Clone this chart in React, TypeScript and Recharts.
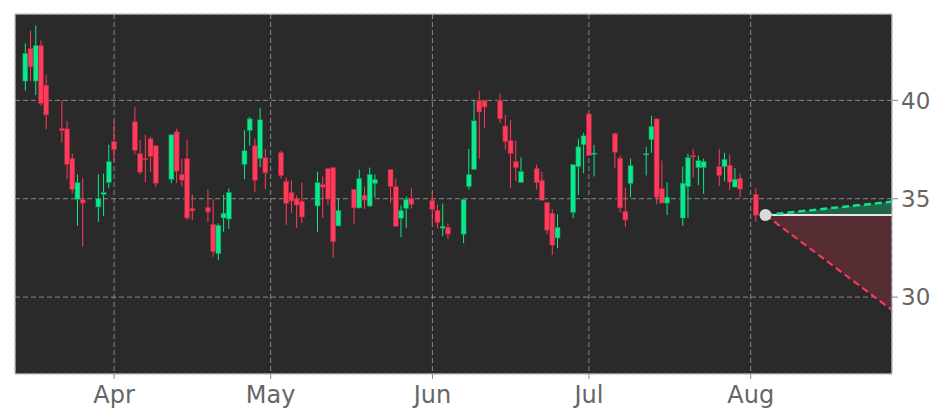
import { ComposedChart, Bar, Line, Area, XAxis, YAxis, CartesianGrid, ReferenceArea, ReferenceDot } from 'recharts';

const GREEN = '#0de88a';
const RED = '#ff3b5c';

const t = (m: number, day: number, h = 0) => Date.UTC(2021, m - 1, day, h);

// trading days, 2021
const tradeDays = [
  '03-15', '03-16', '03-17', '03-18', '03-19', '03-22', '03-23', '03-24', '03-25', '03-26',
  '03-29', '03-30', '03-31', '04-01', '04-05', '04-06', '04-07', '04-08', '04-09', '04-12',
  '04-13', '04-14', '04-15', '04-16', '04-19', '04-20', '04-21', '04-22', '04-23', '04-26',
  '04-27', '04-28', '04-29', '04-30', '05-03', '05-04', '05-05', '05-06', '05-07', '05-10',
  '05-11', '05-12', '05-13', '05-14', '05-17', '05-18', '05-19', '05-20', '05-21', '05-24',
  '05-25', '05-26', '05-27', '05-28', '06-01', '06-02', '06-03', '06-04', '06-07', '06-08',
  '06-09', '06-10', '06-11', '06-14', '06-15', '06-16', '06-17', '06-18', '06-21', '06-22',
  '06-23', '06-24', '06-25', '06-28', '06-29', '06-30', '07-01', '07-02', '07-06', '07-07',
  '07-08', '07-09', '07-12', '07-13', '07-14', '07-15', '07-16', '07-19', '07-20', '07-21',
  '07-22', '07-23', '07-26', '07-27', '07-28', '07-29', '07-30', '08-02',
];

const opens = [
  40.98, 42.64, 40.98, 42.79, 40.77, 38.57, 38.55, 37.04, 34.97, 34.97,
  34.58, 35.22, 35.82, 37.9, 38.91, 37.29, 37.05, 38.05, 37.69, 35.99,
  38.4, 36.23, 37.04, 34.51, 34.56, 33.7, 32.21, 34.02, 33.97, 36.75,
  38.47, 37.69, 37.05, 37.09, 37.34, 35.88, 35.32, 35.02, 34.87, 34.63,
  35.72, 36.53, 36.58, 33.62, 35.47, 34.53, 35.17, 34.63, 35.77, 36.48,
  35.62, 34.01, 34.51, 35.02, 34.92, 34.41, 33.5, 33.55, 33.2, 35.62,
  36.48, 40.0, 40.0, 40.0, 38.7, 37.95, 36.89, 35.82, 36.53, 35.93,
  34.81, 34.26, 33.0, 34.31, 36.63, 37.74, 39.31, 37.27, 38.3, 37.05,
  34.36, 35.77, 37.27, 38.0, 39.06, 35.52, 34.78, 34.02, 35.62, 37.2,
  36.58, 36.58, 36.63, 36.63, 36.7, 35.59, 36.04, 35.22,
];

const highs = [
  42.9, 43.55, 43.8, 43.05, 41.28, 40.0, 38.96, 37.29, 36.23, 36.03,
  36.23, 36.28, 37.74, 38.91, 39.66, 38.0, 38.25, 38.15, 37.74, 38.25,
  38.55, 37.04, 38.0, 35.22, 35.47, 34.97, 33.75, 35.2, 35.52, 38.48,
  39.16, 38.05, 39.61, 37.54, 37.44, 36.08, 35.93, 35.17, 35.82, 36.38,
  36.13, 36.55, 36.6, 35.02, 35.49, 36.48, 35.62, 36.58, 36.23, 36.5,
  36.03, 34.66, 35.12, 35.52, 35.32, 34.71, 34.76, 33.75, 34.97, 37.54,
  40.0, 40.47, 40.0, 40.35, 39.26, 39.01, 37.95, 37.09, 36.73, 36.38,
  34.81, 34.46, 34.21, 36.73, 38.05, 38.35, 39.31, 37.74, 38.35, 37.19,
  35.57, 37.04, 37.64, 39.21, 39.06, 36.94, 35.84, 36.63, 37.29, 37.54,
  37.19, 37.04, 37.54, 37.34, 37.24, 36.55, 36.28, 35.52,
];

const lows = [
  40.49, 40.98, 40.27, 39.73, 38.52, 37.86, 35.99, 35.27, 33.62, 32.56,
  33.82, 34.12, 35.54, 36.85, 37.26, 36.23, 35.84, 36.35, 35.59, 35.79,
  35.79, 35.64, 33.92, 33.92, 33.82, 32.05, 31.9, 33.32, 33.47, 35.99,
  37.71, 35.34, 36.6, 35.49, 36.03, 33.67, 34.28, 33.52, 33.77, 33.32,
  34.02, 34.68, 32.0, 33.6, 33.72, 34.51, 34.48, 34.58, 35.07, 34.78,
  33.58, 33.05, 33.5, 34.51, 33.6, 33.5, 33.1, 32.95, 32.74, 35.47,
  36.48, 37.04, 38.6, 38.86, 37.49, 35.52, 35.88, 35.82, 35.47, 34.92,
  33.2, 32.14, 32.49, 34.01, 35.19, 36.3, 37.19, 36.13, 36.55, 34.31,
  33.57, 35.07, 36.18, 37.34, 34.73, 34.78, 34.17, 33.62, 34.02, 36.08,
  35.69, 35.24, 35.64, 35.89, 35.44, 35.59, 35.08, 33.82,
];

const closes = [
  42.39, 41.7, 42.79, 39.85, 39.26, 38.47, 36.75, 35.47, 35.82, 34.78,
  35.02, 35.32, 36.89, 37.49, 37.46, 36.35, 37.0, 37.15, 35.79, 38.25,
  36.4, 35.94, 34.02, 34.38, 34.33, 32.31, 33.65, 34.26, 35.32, 37.44,
  39.06, 35.94, 39.01, 36.31, 36.18, 34.76, 34.88, 34.68, 34.07, 35.82,
  35.59, 34.98, 32.81, 34.41, 34.53, 36.03, 34.93, 36.23, 35.98, 35.62,
  33.6, 34.41, 34.97, 34.71, 34.46, 33.8, 33.6, 33.2, 34.97, 36.23,
  38.96, 39.41, 39.66, 39.06, 37.9, 37.29, 36.58, 36.38, 35.82, 34.92,
  33.4, 32.64, 33.55, 36.73, 37.64, 38.2, 37.19, 37.32, 37.36, 34.53,
  33.92, 36.68, 37.3, 38.67, 35.08, 34.78, 35.08, 35.79, 37.09, 37.17,
  36.94, 36.89, 36.18, 37.0, 35.84, 35.99, 35.49, 34.16,
];

// forecast cone
const lastClose = 34.17;
const coneStart = t(8, 3, 20);
const coneEnd = t(8, 28, 2);
const coneUpper = 34.85;
const coneLower = 29.34;

const monthTicks = [t(4, 1), t(5, 1), t(6, 1), t(7, 1), t(8, 1)];
const monthNames = ['Apr', 'May', 'Jun', 'Jul', 'Aug'];

const xDomain = [t(3, 13), coneEnd];
const yDomain = [26.09, 44.39];

const data: any[] = tradeDays.map((s, i) => {
  const [m, d] = s.split('-').map(Number);
  return { t: t(m, d), open: opens[i], high: highs[i], low: lows[i], close: closes[i] };
});
data.push(
  { t: coneStart, mid: lastClose, up: lastClose, down: lastClose, upBand: [lastClose, lastClose], downBand: [lastClose, lastClose] },
  { t: coneEnd, mid: lastClose, up: coneUpper, down: coneLower, upBand: [lastClose, coneUpper], downBand: [coneLower, lastClose] },
);

const Candle = (props: any) => {
  const { x, y, width, height, payload } = props;
  if (!payload || payload.open == null) return null;
  const { open, close, high, low } = payload;
  const up = close >= open;
  const color = up ? GREEN : RED;
  const edge = up ? '#0b8f58' : '#a8283f';
  const top = Math.min(y, y + height);
  const h = Math.abs(height);
  const ratio = high > low ? h / (high - low) : 0;
  const yOf = (v: number) => top + (high - v) * ratio;
  const bTop = yOf(Math.max(open, close));
  const bBot = yOf(Math.min(open, close));
  const cx = x + width / 2;
  return (
    <g>
      <line x1={cx} x2={cx} y1={top} y2={top + h} stroke={color} strokeWidth={1} />
      <rect x={x} y={bTop} width={width} height={Math.max(bBot - bTop, 1.5)} fill={color} stroke={edge} strokeWidth={0.6} />
    </g>
  );
};

const xTick = { fill: '#666', fontSize: 24, fontFamily: 'DejaVu Sans' };
const yTick = { fill: '#666', fontSize: 23, fontFamily: 'DejaVu Sans' };

export default function App() {
  return (
    <div style={{ width: 927, height: 400 }}>
      <ComposedChart width={927} height={400} data={data} margin={{ top: 6, right: 0, bottom: 4, left: 7 }}>
        <CartesianGrid fill="#2a2a2a" stroke="#8a8a8a" strokeDasharray="5 3" />
        <XAxis
          dataKey="t"
          type="number"
          domain={xDomain}
          allowDataOverflow
          ticks={monthTicks}
          tickFormatter={(v: number) => monthNames[monthTicks.indexOf(v)] ?? ''}
          axisLine={false}
          tickLine={{ stroke: '#888' }}
          tickSize={5}
          tickMargin={7}
          height={30}
          tick={xTick}
        />
        <YAxis
          orientation="right"
          type="number"
          domain={yDomain}
          allowDataOverflow
          ticks={[30, 35, 40]}
          axisLine={false}
          tickLine={{ stroke: '#888' }}
          tickSize={6}
          tickMargin={3}
          width={43}
          tick={yTick}
        />
        <Area dataKey="upBand" stroke="none" fill="#22634a" fillOpacity={1} isAnimationActive={false} />
        <Area dataKey="downBand" stroke="none" fill="#552d33" fillOpacity={1} isAnimationActive={false} />
        <Line dataKey="mid" stroke="#e6e6e6" strokeWidth={2} dot={false} isAnimationActive={false} />
        <Line dataKey="up" stroke={GREEN} strokeWidth={2.5} strokeDasharray="7 4" dot={false} isAnimationActive={false} />
        <Line dataKey="down" stroke={RED} strokeWidth={2} strokeDasharray="7 4" dot={false} isAnimationActive={false} />
        <Bar
          dataKey={(d: any) => (d.open == null ? null : [d.low, d.high])}
          barSize={5}
          shape={Candle}
          isAnimationActive={false}
        />
        <ReferenceDot x={coneStart} y={lastClose} r={6} fill="#d9d9d9" stroke="none" />
        <ReferenceArea x1={xDomain[0]} x2={xDomain[1]} y1={yDomain[0]} y2={yDomain[1]} fill="none" stroke="#d0d0d0" strokeWidth={1} />
      </ComposedChart>
    </div>
  );
}
